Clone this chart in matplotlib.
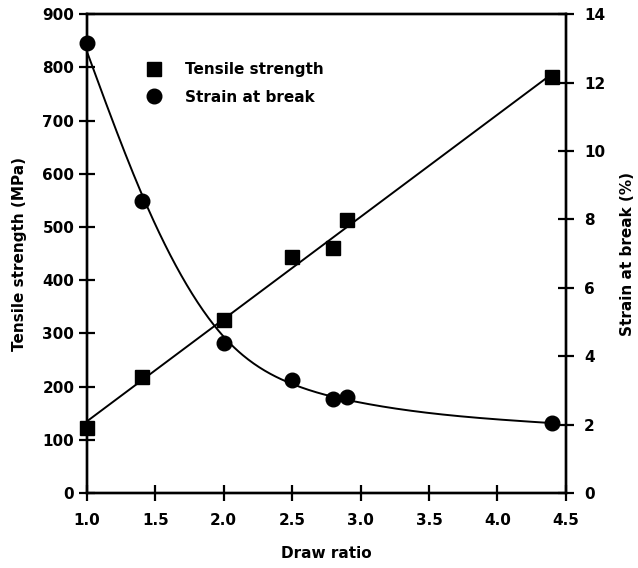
import numpy as np
import matplotlib
matplotlib.use("Agg")
import matplotlib.pyplot as plt

plt.rcParams['font.family'] = ['DejaVu Sans']
plt.rcParams['font.weight'] = 'bold'

# measured values
draw_ratio = [1.0, 1.4, 2.0, 2.5, 2.8, 2.9, 4.4]
tensile = [122, 218, 325, 444, 460, 513, 782]   # MPa
strain = [13.15, 8.55, 4.4, 3.3, 2.75, 2.82, 2.05]   # %

x_ticks = [1.0, 1.5, 2.0, 2.5, 3.0, 3.5, 4.0, 4.5]
left_ticks = list(range(0, 901, 100))
right_ticks = list(range(0, 15, 2))

FS = 11


def smooth_curve(x, y, lam=1.2e-2, h=0.01):
    # penalised smoothing spline on a fine grid (second-difference penalty)
    x = np.asarray(x, dtype=float)
    y = np.asarray(y, dtype=float)
    grid = np.arange(x.min(), x.max() + h / 2, h)
    n = len(grid)
    idx = np.rint((x - x.min()) / h).astype(int)
    w = np.zeros(n)
    z = np.zeros(n)
    w[idx] = 1.0
    z[idx] = y
    D = np.diff(np.eye(n), 2, axis=0) / h ** 2
    A = np.diag(w) + lam * h * D.T @ D
    return grid, np.linalg.solve(A, w * z)


fig = plt.figure(figsize=(6.38, 5.68), dpi=100)
ax = fig.add_axes([0.136, 0.132, 0.751, 0.843])
ax2 = ax.twinx()

xs = np.linspace(min(draw_ratio), max(draw_ratio), 200)

# tensile strength: linear fit
k, b0 = np.polyfit(draw_ratio, tensile, 1)
ax.plot(xs, k * xs + b0, color='black', lw=1.4, zorder=2)
h1, = ax.plot(draw_ratio, tensile, 's', color='black', ms=9.5, zorder=3,
              clip_on=False, label='Tensile strength')

# strain at break: smoothed curve
gx, gy = smooth_curve(draw_ratio, strain)
ax2.plot(gx, gy, color='black', lw=1.4, zorder=2)
h2, = ax2.plot(draw_ratio, strain, 'o', color='black', ms=10.5, zorder=3,
               clip_on=False, label='Strain at break')

ax.set_xlim(1.0, 4.5)
ax.set_ylim(0, 900)
ax2.set_ylim(0, 14)
ax.set_xticks(x_ticks)
ax.set_xticklabels(['%.1f' % v for v in x_ticks])
ax.set_yticks(left_ticks)
ax2.set_yticks(right_ticks)

for a in (ax, ax2):
    for s in a.spines.values():
        s.set_linewidth(1.7)
    a.tick_params(direction='inout', length=12, width=1.6, labelsize=FS)
ax.tick_params(axis='x', length=11, pad=9)
ax.tick_params(axis='y', pad=3)
ax2.tick_params(axis='y', pad=7)

ax.set_xlabel('Draw ratio', fontsize=FS, fontweight='bold', labelpad=13)
ax.set_ylabel('Tensile strength (MPa)', fontsize=FS, fontweight='bold', labelpad=11)
ax2.set_ylabel('Strain at break (%)', fontsize=FS, fontweight='bold', labelpad=11)

ax.legend(handles=[h1, h2], loc='upper left', bbox_to_anchor=(0.096, 0.928),
          frameon=False, fontsize=FS, handletextpad=1.5, labelspacing=0.8,
          handlelength=1.0)

fig.savefig('out.png', dpi=100)
